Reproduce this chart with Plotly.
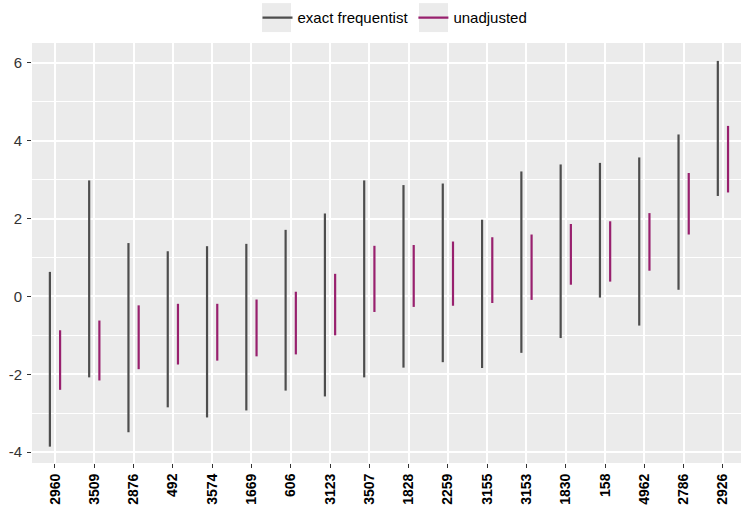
import plotly.graph_objects as go

# Study identifiers along the x axis (ordered by unadjusted estimate)
studies = ["2960", "3509", "2876", "492", "3574", "1669", "606", "3123", "3507",
           "1828", "2259", "3155", "3153", "1830", "158", "4962", "2786", "2926"]

# Interval bounds for each method
exact_lower = [-3.86, -2.08, -3.49, -2.85, -3.11, -2.93, -2.42, -2.57, -2.08,
               -1.83, -1.69, -1.84, -1.45, -1.07, -0.03, -0.75, 0.17, 2.58]
exact_upper = [0.63, 2.98, 1.37, 1.16, 1.29, 1.35, 1.71, 2.13, 2.98,
               2.86, 2.90, 1.97, 3.21, 3.39, 3.43, 3.57, 4.16, 6.05]
unadj_lower = [-2.40, -2.16, -1.87, -1.75, -1.65, -1.54, -1.49, -1.00, -0.40,
               -0.27, -0.24, -0.17, -0.09, 0.30, 0.38, 0.66, 1.59, 2.67]
unadj_upper = [-0.87, -0.62, -0.23, -0.19, -0.19, -0.08, 0.12, 0.58, 1.30,
               1.32, 1.41, 1.52, 1.59, 1.86, 1.93, 2.14, 3.17, 4.38]

y_ticks = [-4, -2, 0, 2, 4, 6]

DODGE = 0.13
GREY = "#4d4d4d"
PURPLE = "#98206e"


def segments(lower, upper, shift):
    xs, ys = [], []
    for i, (lo, hi) in enumerate(zip(lower, upper)):
        xs += [i + shift, i + shift, None]
        ys += [lo, hi, None]
    return xs, ys


fig = go.Figure()
for name, lo, hi, shift, color in [
    ("exact frequentist", exact_lower, exact_upper, -DODGE, GREY),
    ("unadjusted", unadj_lower, unadj_upper, DODGE, PURPLE),
]:
    xs, ys = segments(lo, hi, shift)
    fig.add_trace(go.Scatter(x=xs, y=ys, mode="lines", name=name,
                             line=dict(color=color, width=2.2),
                             hoverinfo="skip"))

# grey legend key backgrounds (ggplot style)
for x0, x1 in [(0.3244, 0.3653), (0.5458, 0.5867)]:
    fig.add_shape(type="rect", xref="paper", yref="paper",
                  x0=x0, x1=x1, y0=1.026, y1=1.095,
                  fillcolor="#ebebeb", line=dict(width=0), layer="below")

fig.update_layout(
    width=742, height=513,
    margin=dict(l=32, r=1, t=43, b=50),
    plot_bgcolor="#ebebeb", paper_bgcolor="white",
    font=dict(family="Liberation Sans, Arial, sans-serif", color="black"),
    showlegend=True,
    legend=dict(orientation="h", x=0.512, xanchor="center", y=1.06,
                yanchor="middle", font=dict(size=15, color="black"),
                bgcolor="rgba(0,0,0,0)", itemwidth=30, tracegroupgap=0),
    xaxis=dict(range=[-0.585, 17.46], tickmode="array",
               tickvals=list(range(len(studies))), ticktext=studies,
               tickangle=-90, tickfont=dict(size=14, color="black",
                                            family="Liberation Sans, Arial, sans-serif",
                                            weight="bold"),
               showgrid=True, gridcolor="white", gridwidth=2,
               ticks="outside", ticklen=4, tickcolor="#333333", tickwidth=1.2,
               zeroline=False, showline=False),
    yaxis=dict(range=[-4.28, 6.51], tickmode="array", tickvals=y_ticks,
               ticktext=[str(v) for v in y_ticks],
               tickfont=dict(size=15, color="#333333"),
               ticklabelstandoff=2,
               showgrid=True, gridcolor="white", gridwidth=2,
               minor=dict(tickvals=[-3, -1, 1, 3, 5], showgrid=True,
                          gridcolor="white", gridwidth=1, ticks=""),
               ticks="outside", ticklen=4, tickcolor="#333333", tickwidth=1.2,
               zeroline=False, showline=False),
)

fig.write_html("out.html")
